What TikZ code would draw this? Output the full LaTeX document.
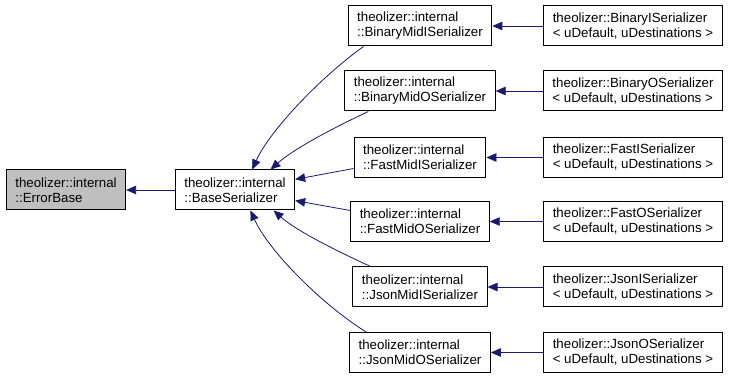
\documentclass[tikz,border=0pt]{standalone}
\usepackage{fontspec}
\setmainfont{Liberation Sans}
\usetikzlibrary{arrows.meta}

\begin{document}
\begin{tikzpicture}[x=1pt, y=-1pt,
  every node/.style={font=\fontsize{13.3}{15}\selectfont},
  cls/.style={draw=black, line width=1pt, fill=white, align=left,
    inner xsep=9pt, minimum height=40pt},
  inh/.style={draw={rgb,255:red,25;green,25;blue,112}, line width=0.8pt,
    -{Triangle[length=10pt,width=8.5pt]}}]
  \useasboundingbox (0,0) rectangle (729,379);
  \node[cls, fill=black!25] (err) at (66,190) {theolizer::internal\\::ErrorBase};
  \node[cls] (base) at (235,190) {theolizer::internal\\::BaseSerializer};
  \foreach \i/\name/\y in {1/BinaryMidI/26,2/BinaryMidO/91,3/FastMidI/157.5,
      4/FastMidO/221.5,5/JsonMidI/287,6/JsonMidO/352.5} {
    \node[cls] (m\i) at (420,\y) {theolizer::internal\\::\name{}Serializer};
  }
  \foreach \i/\name/\y in {1/BinaryI/26,2/BinaryO/91,3/FastI/157.5,
      4/FastO/221.5,5/JsonI/287,6/JsonO/352.5} {
    \node[cls] (s\i) at (633,\y) {theolizer::\name{}Serializer\\< uDefault, uDestinations >};
  }
  \draw[inh] (base) -- (err);
  \foreach \i in {1,...,6} {
    \draw[inh] (s\i) -- (m\i);
  }
  \draw[inh] ([xshift=16pt]m1.south west) .. controls +(-40,28) and +(18,-40) .. (base.50);
  \draw[inh] ([xshift=24pt]m2.south west) .. controls +(-30,14) and +(25,-22) .. (base.30);
  \draw[inh] ([yshift=-11pt]m3.west) -- (base.10);
  \draw[inh] ([yshift=11pt]m4.west) -- (base.-10);
  \draw[inh] ([xshift=18pt]m5.north west) .. controls +(-30,-14) and +(25,22) .. (base.-28);
  \draw[inh] ([xshift=17pt]m6.north west) .. controls +(-45,-28) and +(18,40) .. (base.-53);
\end{tikzpicture}
\end{document}
